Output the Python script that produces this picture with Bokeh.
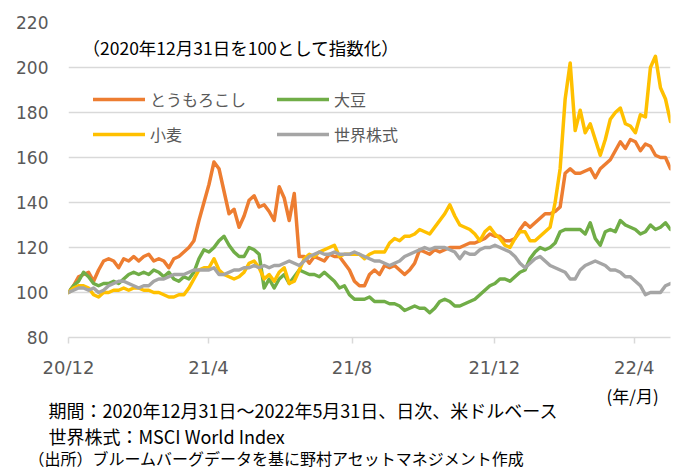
import pandas as pd
from bokeh.plotting import figure
from bokeh.layouts import column, row
from bokeh.models import Range1d, FixedTicker, Legend, LegendItem, Label
from bokeh.embed import file_html
from bokeh.resources import INLINE

start = "2020-12-31"
end = "2022-05-31"

series_names = ["とうもろこし", "大豆", "小麦", "世界株式"]
series_colors = ["#ED7D31", "#70AD47", "#FFC000", "#A5A5A5"]

corn = [100, 103, 107, 108, 109, 105, 110, 114, 115, 114, 111, 115, 114, 116, 114, 116, 117, 114, 115, 114,
        111, 115, 116, 118, 120, 123, 132, 140, 148, 158, 155, 145, 135, 137, 129, 134, 141, 143, 138, 139,
        136, 132, 147, 142, 132, 144, 116, 116, 113, 116, 115, 114, 117, 116, 116, 113, 110, 105, 103, 103,
        108, 110, 108, 112, 111, 112, 110, 108, 110, 113, 119, 118, 117, 119, 118, 119, 120, 120, 120, 121,
        122, 122, 123, 124, 126, 125, 125, 123, 123, 124, 128, 131, 129, 131, 133, 135, 135, 136, 138, 153,
        155, 153, 153, 154, 155, 151, 155, 157, 159, 163, 167, 164, 168, 167, 163, 166, 165, 161, 160, 160,
        155]

soybean = [100, 103, 105, 109, 107, 104, 103, 104, 104, 105, 104, 106, 108, 109, 108, 109, 108, 110, 109, 107,
           109, 106, 105, 107, 106, 109, 115, 119, 118, 120, 123, 125, 121, 118, 116, 116, 120, 119, 117, 102,
           106, 102, 106, 108, 104, 107, 110, 109, 108, 108, 107, 109, 107, 105, 102, 103, 99, 97, 97, 97,
           98, 96, 96, 96, 95, 95, 94, 92, 93, 94, 93, 93, 91, 93, 96, 97, 96, 94, 94, 95,
           96, 97, 99, 101, 103, 104, 106, 106, 105, 107, 109, 110, 115, 118, 120, 119, 120, 122, 127, 128,
           128, 128, 128, 126, 131, 124, 121, 127, 128, 127, 132, 130, 129, 128, 126, 127, 130, 128, 129, 131,
           128]

wheat = [100, 102, 103, 103, 102, 99, 98, 100, 100, 101, 101, 102, 101, 102, 102, 101, 101, 100, 100, 99,
         98, 98, 99, 99, 102, 106, 110, 111, 111, 115, 110, 108, 107, 106, 107, 109, 113, 114, 111, 106,
         108, 105, 109, 111, 104, 105, 110, 115, 117, 116, 118, 119, 120, 121, 116, 117, 117, 117, 117, 115,
         117, 118, 118, 118, 122, 124, 123, 125, 125, 126, 128, 127, 126, 129, 132, 135, 139, 134, 130, 129,
         128, 126, 123, 127, 129, 126, 124, 121, 120, 124, 127, 127, 123, 123, 125, 127, 129, 140, 155, 186,
         202, 172, 181, 171, 175, 168, 161, 168, 177, 180, 182, 175, 174, 171, 179, 178, 200, 205, 191, 186,
         176]

world = [100, 101, 102, 102, 101, 102, 100, 101, 103, 104, 105, 105, 104, 103, 102, 103, 103, 105, 106, 106,
         107, 108, 108, 108, 109, 110, 110, 110, 110, 111, 108, 108, 109, 110, 110, 111, 111, 112, 111, 112,
         111, 112, 112, 113, 114, 113, 112, 114, 116, 117, 118, 117, 117, 118, 117, 117, 117, 118, 117, 116,
         115, 114, 114, 113, 112, 113, 114, 116, 117, 118, 119, 120, 119, 120, 120, 120, 119, 118, 115, 118,
         117, 117, 119, 120, 120, 121, 120, 119, 118, 116, 113, 111, 113, 115, 116, 114, 112, 111, 110, 109,
         106, 106, 110, 112, 113, 114, 113, 112, 110, 110, 109, 107, 107, 105, 103, 99, 100, 100, 100, 103,
         104]

y_ticks = [80, 100, 120, 140, 160, 180, 200, 220]
x_tick_dates = ["2020-12-31", "2021-04-30", "2021-08-31", "2021-12-31", "2022-04-30"]
x_tick_labels = ["20/12", "21/4", "21/8", "21/12", "22/4"]

title_text = "（2020年12月31日を100として指数化）"
unit_text = "(年/月)"
notes = ["期間：2020年12月31日～2022年5月31日、日次、米ドルベース",
         "世界株式：MSCI World Index",
         "（出所）ブルームバーグデータを基に野村アセットマネジメント作成"]

dates = pd.date_range(start, end, periods=len(corn))

JP = "Noto Sans CJK JP"
NUM = "DejaVu Sans"
W = 681
H_MAIN = 380
H_NOTE = 90

p = figure(width=W, height=H_MAIN, x_axis_type="datetime",
           x_range=Range1d(pd.Timestamp(start), pd.Timestamp(end)),
           y_range=Range1d(80, 220),
           output_backend="svg", toolbar_location=None,
           min_border_left=68, min_border_right=11, min_border_top=22, min_border_bottom=42)
p.outline_line_color = None
p.background_fill_color = "white"
p.border_fill_color = "white"

renderers = []
for vals, color in zip([corn, soybean, wheat, world], series_colors):
    r = p.line(dates, vals, line_color=color, line_width=3.5, line_join="round", line_cap="round")
    renderers.append(r)

tick_ms = [int(pd.Timestamp(d).value // 10**6) for d in x_tick_dates]
p.xaxis.ticker = FixedTicker(ticks=tick_ms)
p.xaxis.major_label_overrides = {t: l for t, l in zip(tick_ms, x_tick_labels)}
p.xaxis.axis_line_color = "#D9D9D9"
p.xaxis.axis_line_width = 1.5
p.xaxis.major_tick_line_color = "#D9D9D9"
p.xaxis.major_tick_line_width = 1.5
p.xaxis.major_tick_out = 6
p.xaxis.major_tick_in = 0
p.xaxis.minor_tick_line_color = None
p.xaxis.major_label_standoff = 13
p.xaxis.major_label_text_font = NUM
p.xaxis.major_label_text_font_size = "18px"
p.xaxis.major_label_text_color = "#595959"

p.yaxis.ticker = FixedTicker(ticks=y_ticks)
p.yaxis.axis_line_color = None
p.yaxis.major_tick_line_color = None
p.yaxis.minor_tick_line_color = None
p.yaxis.major_tick_out = 0
p.yaxis.major_tick_in = 0
p.yaxis.major_label_standoff = 20
p.yaxis.major_label_text_font = NUM
p.yaxis.major_label_text_font_size = "17px"
p.yaxis.major_label_text_color = "#595959"

p.xgrid.grid_line_color = None
p.ygrid.grid_line_color = "#D9D9D9"
p.ygrid.grid_line_width = 1.5

legend = Legend(items=[LegendItem(label=n, renderers=[r]) for n, r in zip(series_names, renderers)],
                orientation="horizontal", ncols=2, location=(25, 189),
                glyph_width=52, glyph_height=28, label_height=28, label_width=120,
                spacing=7, padding=0, margin=0, label_standoff=5,
                border_line_color=None, background_fill_alpha=0,
                label_text_font=JP, label_text_font_size="16px", label_text_color="#595959")
p.add_layout(legend)

p.add_layout(Label(x=14, y=290, x_units="screen", y_units="screen", text=title_text,
                   text_font=JP, text_font_size="17.5px", text_color="#000000", text_baseline="middle"))

# notes panel below the chart
n = figure(width=W, height=H_NOTE, x_range=Range1d(0, W), y_range=Range1d(H_NOTE, 0),
           output_backend="svg", toolbar_location=None,
           x_axis_location=None, y_axis_location=None, min_border=0)
n.outline_line_color = None
n.xgrid.grid_line_color = None
n.ygrid.grid_line_color = None
n.background_fill_color = "white"
n.border_fill_color = "white"

n.add_layout(Label(x=606, y=15, text=unit_text, text_font=JP, text_font_size="17px",
                   text_color="#000000", text_baseline="middle"))
for note, nx, ny, fs in zip(notes, [48, 48, 28], [29, 55, 77], ["18px", "18px", "16px"]):
    n.add_layout(Label(x=nx, y=ny, text=note, text_font=JP, text_font_size=fs,
                       text_color="#000000", text_baseline="middle"))

layout = column(p, row(n), spacing=0)
open("out.html", "w").write(file_html(layout, INLINE))
